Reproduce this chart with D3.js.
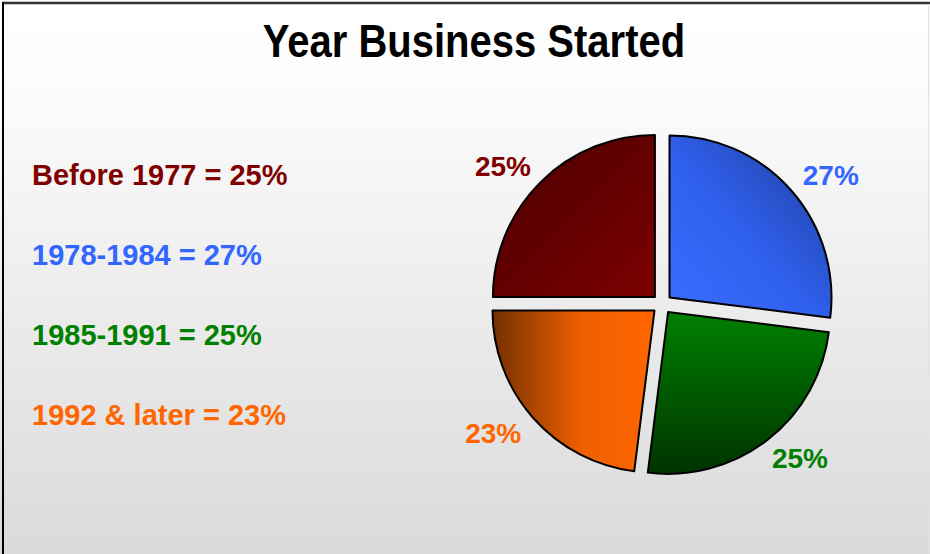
<!DOCTYPE html>
<html>
<head>
<meta charset="utf-8">
<script src="https://cdn.jsdelivr.net/npm/d3@7"></script>
<style>
  html, body { margin: 0; padding: 0; background: #fff; }
  svg { display: block; }
  text { font-family: "Liberation Sans", Arial, Helvetica, sans-serif; font-weight: bold; }
</style>
</head>
<body>
<script>
// Survey shares by the year the business was started
const categories = ["Before 1977", "1978-1984", "1985-1991", "1992 & later"];
const shares = [25, 27, 25, 23];
const textColors = ["#800000", "#3366ff", "#008000", "#ff6600"];
const title = "Year Business Started";

const W = 930, H = 554;
const cx = 662, cy = 304, radius = 162, explode = 10;

const svg = d3.select("body").append("svg").attr("width", W).attr("height", H);
const defs = svg.append("defs");

// page background: white header fading to light gray
const bg = defs.append("linearGradient").attr("id", "bg")
  .attr("gradientUnits", "userSpaceOnUse").attr("x1", 0).attr("y1", 0).attr("x2", 0).attr("y2", H);
bg.append("stop").attr("offset", 0).attr("stop-color", "#ffffff");
bg.append("stop").attr("offset", 0.13).attr("stop-color", "#fdfdfd");
bg.append("stop").attr("offset", 1).attr("stop-color", "#dadada");
svg.append("rect").attr("width", W).attr("height", H).attr("fill", "url(#bg)");

// shaded fills for each slice
const fills = [
  { dir: [0, 0, 1, 1], stops: [[0, "#4a0000"], [1, "#7c0000"]] },
  { dir: [0, 1, 1, 0], stops: [[0, "#3a6cff"], [0.45, "#3060ee"], [1, "#1d3c98"]] },
  { dir: [0, 0, 0, 1], stops: [[0, "#008000"], [1, "#003300"]] },
  { dir: [0, 0, 1, 0], stops: [[0, "#743000"], [0.55, "#ee6000"], [1, "#ff6600"]] }
];
fills.forEach((f, i) => {
  const g = defs.append("linearGradient").attr("id", "slice" + i)
    .attr("x1", f.dir[0]).attr("y1", f.dir[1]).attr("x2", f.dir[2]).attr("y2", f.dir[3]);
  f.stops.forEach(s => g.append("stop").attr("offset", s[0]).attr("stop-color", s[1]));
});

// frame
svg.append("line").attr("x1", 2).attr("x2", W).attr("y1", 3).attr("y2", 3)
  .attr("stroke", "#333").attr("stroke-width", 2.5);
svg.append("line").attr("x1", 3).attr("x2", 3).attr("y1", 2).attr("y2", H)
  .attr("stroke", "#000").attr("stroke-width", 2);
svg.append("line").attr("x1", 928.5).attr("x2", 928.5).attr("y1", 4).attr("y2", H)
  .attr("stroke", "#e2e2e2").attr("stroke-width", 1);

// title (tall, slightly condensed lettering)
svg.append("text")
  .attr("transform", `translate(474,56.5) scale(1,1.17)`)
  .attr("text-anchor", "middle")
  .attr("font-size", 40)
  .attr("fill", "#000")
  .text(title);

// legend text on the left
const fmt = d => d + "%";
svg.append("g").selectAll("text")
  .data(categories)
  .join("text")
  .attr("x", 32)
  .attr("y", (d, i) => 185 + i * 80)
  .attr("font-size", 29)
  .attr("fill", (d, i) => textColors[i])
  .text((d, i) => `${d} = ${fmt(shares[i])}`);

// exploded pie
const pie = d3.pie().sort(null).value(d => d.v)
  .startAngle(-Math.PI / 2).endAngle(1.5 * Math.PI);
const arcs = pie(shares.map((v, i) => ({ v, i })));
const arc = d3.arc().innerRadius(0).outerRadius(radius);

const mid = a => (a.startAngle + a.endAngle) / 2;
const chart = svg.append("g").attr("transform", `translate(${cx},${cy})`);

chart.selectAll("path")
  .data(arcs)
  .join("path")
  .attr("transform", a => `translate(${Math.sin(mid(a)) * explode},${-Math.cos(mid(a)) * explode})`)
  .attr("d", arc)
  .attr("fill", a => `url(#slice${a.data.i})`)
  .attr("stroke", "#000")
  .attr("stroke-width", 2)
  .attr("stroke-linejoin", "round");

// percentage labels around the pie
const lrx = 225, lry = 195;
chart.selectAll("text")
  .data(arcs)
  .join("text")
  .attr("x", a => Math.sin(mid(a)) * lrx)
  .attr("y", a => -Math.cos(mid(a)) * lry)
  .attr("dy", "0.36em")
  .attr("text-anchor", "middle")
  .attr("font-size", 28)
  .attr("fill", a => textColors[a.data.i])
  .text(a => fmt(a.data.v));
</script>
</body>
</html>
